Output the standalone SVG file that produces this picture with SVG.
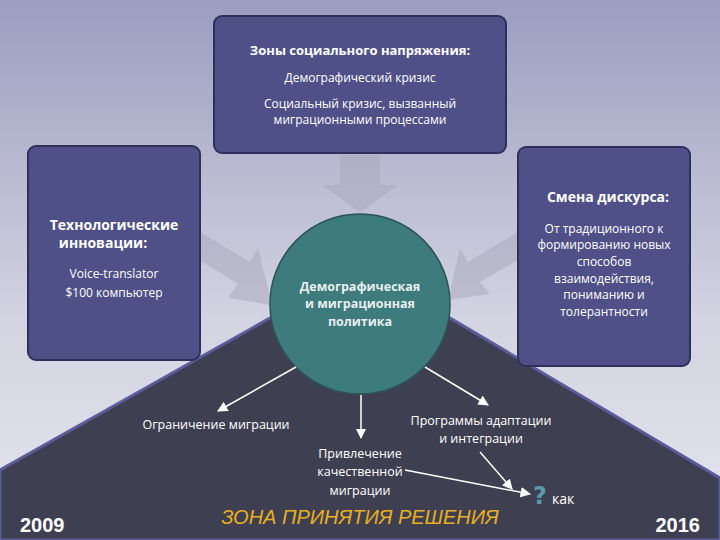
<svg xmlns="http://www.w3.org/2000/svg" width="720" height="540" viewBox="0 0 720 540">
<defs>
<linearGradient id="bg" x1="0" y1="0" x2="0" y2="1"><stop offset="0" stop-color="#9c9dbf"/><stop offset="0.6" stop-color="#d4d4e2"/><stop offset="1" stop-color="#e6e6ee"/></linearGradient>
<marker id="ah" viewBox="0 0 10 10" refX="9" refY="5" markerWidth="7" markerHeight="7" orient="auto"><path d="M0,0 L10,5 L0,10 z" fill="#fff"/></marker>
<style>
.box{fill:#4f5088;stroke:#2e2f5a;stroke-width:2}
.t{font-family:"Open Sans","DejaVu Sans",sans-serif;fill:#fff;text-anchor:middle}
.ln{stroke:#fff;stroke-width:1.5;fill:none;marker-end:url(#ah)}
.ga{fill:#a8a8bc;opacity:0.5}
</style>
</defs>
<rect width="720" height="540" fill="url(#bg)"/>
<polygon points="0,470 270,318 450,318 720,478 720,540 0,540" fill="#3f3f52" stroke="#5a5c9c" stroke-width="3"/>
<g id="bigarrows">
<polygon class="ga" points="340,155 380,155 380,185 398,185 360,212 322,185 340,185"/>
<polygon class="ga" points="200,232 250,262 258,248 272,305 228,298 238,284 190,254"/>
<polygon class="ga" points="518,232 468,262 460,248 448,300 490,294 480,282 528,254"/>
</g>
<g id="top"><rect class="box" x="214" y="16" width="292" height="137" rx="8"/>
<text class="t" x="360" y="55" font-size="13" font-weight="bold">Зоны социального напряжения:</text>
<text class="t" x="360" y="82" font-size="12">Демографический кризис</text>
<text class="t" x="360" y="108" font-size="12">Социальный кризис, вызванный</text>
<text class="t" x="360" y="124" font-size="12">миграционными процессами</text></g>
<g id="left"><rect class="box" x="28" y="146" width="172" height="214" rx="8"/>
<text class="t" x="114" y="230" font-size="14" font-weight="bold">Технологические</text>
<text class="t" x="103" y="248" font-size="14" font-weight="bold">инновации:</text>
<text class="t" x="114" y="278" font-size="12">Voice-translator</text>
<text class="t" x="114" y="297" font-size="12">$100 компьютер</text></g>
<g id="right"><rect class="box" x="518" y="147" width="172" height="219" rx="8"/>
<text class="t" x="608" y="202" font-size="14" font-weight="bold">Смена дискурса:</text>
<text class="t" x="604" y="233" font-size="12">От традиционного к</text>
<text class="t" x="604" y="249" font-size="12">формированию новых</text>
<text class="t" x="604" y="266" font-size="12">способов</text>
<text class="t" x="604" y="283" font-size="12">взаимодействия,</text>
<text class="t" x="604" y="299" font-size="12">пониманию и</text>
<text class="t" x="604" y="316" font-size="12">толерантности</text></g>
<g id="center"><circle cx="360" cy="304" r="90" fill="#3e7b7d" stroke="#2a5557" stroke-width="1.5"/>
<text class="t" x="360" y="291" font-size="12.5" font-weight="bold" fill-opacity="0.9">Демографическая</text>
<text class="t" x="360" y="308" font-size="12.5" font-weight="bold" fill-opacity="0.9">и миграционная</text>
<text class="t" x="360" y="326" font-size="12.5" font-weight="bold" fill-opacity="0.9">политика</text></g>
<g id="connectors">
<line class="ln" x1="296" y1="367" x2="218" y2="411"/>
<line class="ln" x1="361" y1="395" x2="361" y2="438"/>
<line class="ln" x1="425" y1="367" x2="488" y2="405"/>
<line class="ln" x1="405" y1="470" x2="530" y2="494"/>
<line class="ln" x1="480" y1="452" x2="512" y2="489"/>
</g>
<g id="labels">
<text class="t" x="216" y="429" font-size="12.5">Ограничение миграции</text>
<text class="t" x="481" y="425" font-size="12.5">Программы адаптации</text>
<text class="t" x="481" y="443" font-size="12.5">и интеграции</text>
<text class="t" x="360" y="458" font-size="12.5">Привлечение</text>
<text class="t" x="360" y="476" font-size="12.5">качественной</text>
<text class="t" x="360" y="495" font-size="12.5">миграции</text>
<text x="533" y="504" font-family="DejaVu Sans,sans-serif" font-size="24" font-weight="bold" fill="#5a9aa8">?</text>
<text x="552" y="504" font-family="Open Sans,sans-serif" font-size="14" fill="#fff">как</text>
<text x="360" y="524" font-family="Liberation Sans,sans-serif" font-size="20" font-style="italic" fill="#e8b020" text-anchor="middle">ЗОНА ПРИНЯТИЯ РЕШЕНИЯ</text>
<text x="20" y="532" font-family="Liberation Sans,sans-serif" font-size="20" font-weight="bold" fill="#fff">2009</text>
<text x="700" y="532" font-family="Liberation Sans,sans-serif" font-size="20" font-weight="bold" fill="#fff" text-anchor="end">2016</text>
</g>
</svg>
